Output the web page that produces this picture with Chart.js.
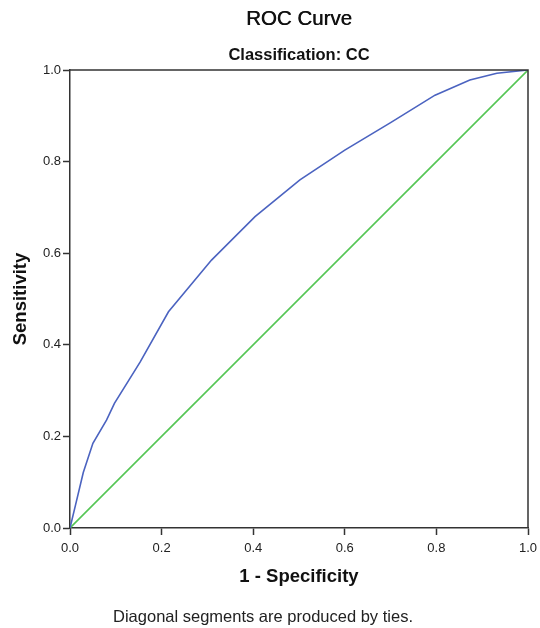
<!DOCTYPE html>
<html>
<head>
<meta charset="utf-8">
<style>
  html, body { margin: 0; padding: 0; background: #ffffff; }
  #wrap { width: 540px; height: 628px; }
</style>
<script src="https://cdn.jsdelivr.net/npm/chart.js@4"></script>
</head>
<body>
<div id="wrap"><canvas id="roc" width="540" height="628"></canvas></div>
<script>
// ROC curve points (1 - specificity, sensitivity)
const falsePositiveRate = [0, 0.012, 0.029, 0.05, 0.08, 0.097, 0.153, 0.215, 0.309, 0.404, 0.502, 0.6, 0.7, 0.797, 0.873, 0.932, 1];
const truePositiveRate  = [0, 0.05, 0.121, 0.185, 0.236, 0.272, 0.362, 0.472, 0.585, 0.68, 0.76, 0.825, 0.885, 0.945, 0.978, 0.993, 1];
// Reference line of no discrimination
const refX = [0, 1];
const refY = [0, 1];
const tickValues = [0, 0.2, 0.4, 0.6, 0.8, 1.0];

const chartTitle = 'ROC Curve';
const chartSubtitle = 'Classification: CC';
const xTitle = '1 - Specificity';
const yTitle = 'Sensitivity';
const footnote = 'Diagonal segments are produced by ties.';

const FONT = '"Liberation Sans", Arial, Helvetica, sans-serif';
const AXIS_COLOR = '#333333';

const toPoints = (xs, ys) => xs.map((x, i) => ({ x: x, y: ys[i] }));

// Frame on top/right edges plus the title block and footnote
const decorations = {
  id: 'decorations',
  afterDraw(chart) {
    const { ctx, chartArea: a } = chart;
    ctx.save();
    ctx.strokeStyle = AXIS_COLOR;
    ctx.lineWidth = 1.5;
    ctx.beginPath();
    ctx.moveTo(a.left, a.top);
    ctx.lineTo(a.right, a.top);
    ctx.lineTo(a.right, a.bottom);
    ctx.stroke();

    ctx.fillStyle = '#111111';
    ctx.textAlign = 'center';
    ctx.textBaseline = 'middle';
    const cx = (a.left + a.right) / 2;
    ctx.font = '20.5px ' + FONT;
    ctx.fillText(chartTitle, cx, 19);
    // slight second pass gives the title a medium weight
    ctx.fillText(chartTitle, cx + 0.4, 19);
    ctx.font = 'bold 16.5px ' + FONT;
    ctx.fillText(chartSubtitle, cx, 55);
    ctx.fillStyle = '#222222';
    ctx.font = '16.5px ' + FONT;
    ctx.fillText(footnote, 263, 617);
    ctx.restore();
  }
};

new Chart(document.getElementById('roc'), {
  type: 'scatter',
  data: {
    datasets: [
      {
        label: 'ROC',
        data: toPoints(falsePositiveRate, truePositiveRate),
        showLine: true,
        borderColor: '#4b63c0',
        borderWidth: 1.6,
        pointRadius: 0,
        tension: 0,
        fill: false
      },
      {
        label: 'Reference',
        data: toPoints(refX, refY),
        showLine: true,
        borderColor: '#55c655',
        borderWidth: 1.6,
        pointRadius: 0,
        fill: false
      }
    ]
  },
  options: {
    responsive: false,
    animation: false,
    devicePixelRatio: 1,
    layout: { padding: { top: 70, right: 12, bottom: 35, left: 0 } },
    plugins: {
      legend: { display: false },
      tooltip: { enabled: false },
      title: { display: false }
    },
    scales: {
      x: {
        type: 'linear',
        min: 0,
        max: 1,
        afterFit(scale) { scale.height = 65; scale.paddingRight = 0; },
        afterBuildTicks(scale) { scale.ticks = tickValues.map(v => ({ value: v })); },
        border: { display: true, color: AXIS_COLOR, width: 1.5 },
        grid: { drawOnChartArea: false, drawTicks: true, tickLength: 7, tickColor: AXIS_COLOR, tickWidth: 1.5 },
        ticks: {
          padding: 6,
          color: '#222222',
          font: { family: FONT, size: 13 },
          callback: v => Number(v).toFixed(1)
        },
        title: {
          display: true,
          text: xTitle,
          color: '#111111',
          font: { family: FONT, size: 18.5, weight: 'bold' },
          padding: { top: 0, bottom: 5 }
        }
      },
      y: {
        type: 'linear',
        min: 0,
        max: 1,
        afterFit(scale) { scale.width = 70; },
        afterBuildTicks(scale) { scale.ticks = tickValues.map(v => ({ value: v })); },
        border: { display: true, color: AXIS_COLOR, width: 1.5 },
        grid: { drawOnChartArea: false, drawTicks: true, tickLength: 7, tickColor: AXIS_COLOR, tickWidth: 1.5 },
        ticks: {
          padding: 2,
          color: '#222222',
          font: { family: FONT, size: 13 },
          callback: v => Number(v).toFixed(1)
        },
        title: {
          display: true,
          text: yTitle,
          color: '#111111',
          font: { family: FONT, size: 18.5, weight: 'bold' },
          padding: { top: 10, bottom: 0 }
        }
      }
    }
  },
  plugins: [decorations]
});
</script>
</body>
</html>
